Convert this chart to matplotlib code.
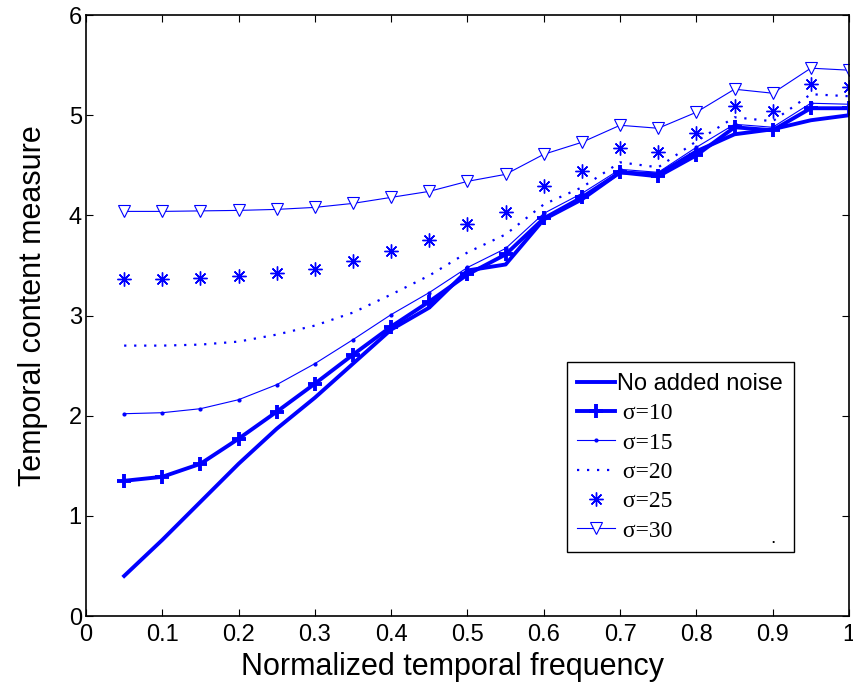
import numpy as np
import matplotlib
matplotlib.use("Agg")
import matplotlib.pyplot as plt

# normalized temporal frequency
freq = [0.05, 0.1, 0.15, 0.2, 0.25, 0.3, 0.35, 0.4, 0.45, 0.5,
        0.55, 0.6, 0.65, 0.7, 0.75, 0.8, 0.85, 0.9, 0.95, 1.0]

no_noise = [0.40, 0.76, 1.14, 1.52, 1.87, 2.18, 2.52, 2.86, 3.08, 3.45,
            3.51, 3.96, 4.16, 4.43, 4.41, 4.64, 4.81, 4.86, 4.95, 5.00]
sigma10 = [1.35, 1.39, 1.52, 1.77, 2.04, 2.32, 2.61, 2.89, 3.14, 3.41,
           3.61, 3.97, 4.18, 4.43, 4.39, 4.60, 4.88, 4.85, 5.07, 5.07]
sigma15 = [2.02, 2.03, 2.07, 2.16, 2.31, 2.52, 2.76, 3.01, 3.23, 3.48,
           3.67, 4.02, 4.22, 4.46, 4.43, 4.68, 4.91, 4.88, 5.12, 5.11]
sigma20 = [2.70, 2.70, 2.71, 2.74, 2.81, 2.90, 3.03, 3.21, 3.40, 3.63,
           3.81, 4.11, 4.28, 4.53, 4.48, 4.74, 4.98, 4.94, 5.21, 5.19]
sigma25 = [3.37, 3.37, 3.38, 3.39, 3.42, 3.46, 3.54, 3.64, 3.75, 3.91,
           4.03, 4.29, 4.44, 4.67, 4.63, 4.82, 5.09, 5.04, 5.31, 5.28]
sigma30 = [4.04, 4.04, 4.045, 4.05, 4.06, 4.08, 4.12, 4.18, 4.24, 4.34,
           4.41, 4.61, 4.73, 4.90, 4.87, 5.03, 5.26, 5.22, 5.47, 5.45]

labels = ["No added noise", " \u03c3=10", " \u03c3=15", " \u03c3=20", " \u03c3=25", " \u03c3=30"]

plt.rcParams["font.family"] = ["Liberation Sans", "DejaVu Sans"]
blue = (0, 0, 1)

fig = plt.figure(figsize=(8.54, 6.86), dpi=100)
ax = fig.add_axes([0.1007, 0.102, 0.8934, 0.876])

ax.plot(freq, no_noise, color=blue, lw=2.8, label=labels[0])
ax.plot(freq, sigma10, color=blue, lw=2.8, marker="+", ms=10, mew=2.8, label=labels[1])
ax.plot(freq, sigma15, color=blue, lw=0.8, marker=".", ms=4, label=labels[2])
ax.plot(freq, sigma20, color=blue, lw=1.6, ls=(0, (1, 3.5)), label=labels[3])
# matlab style asterisk: eight spokes
ax.plot(freq, sigma25, color=blue, lw=0, marker=(8, 2, 0), ms=10, mew=1.0, label=labels[4])
ax.plot(freq, sigma30, color=blue, lw=0.8, marker="v", ms=9, mew=0.8,
        markerfacecolor="white", label=labels[5])

ax.set_xlim(0, 1)
ax.set_ylim(0, 6)
ax.set_xticks(np.arange(0, 1.01, 0.1))
ax.set_xticklabels(["0", "0.1", "0.2", "0.3", "0.4", "0.5", "0.6", "0.7", "0.8", "0.9", "1"])
ax.set_yticks(range(7))
ax.tick_params(direction="in", top=True, right=True, labelsize=17, length=5, width=0.8)
ax.tick_params(axis="x", pad=6)
ax.tick_params(axis="y", pad=3)
for s in ax.spines.values():
    s.set_linewidth(1.2)

ax.set_xlabel("Normalized temporal frequency", fontsize=22, labelpad=4)
ax.set_ylabel("Temporal content measure", fontsize=22, labelpad=15)
ax.xaxis.label.set_x(0.48)
ax.yaxis.label.set_y(0.517)

leg = ax.legend(loc="lower left", bbox_to_anchor=(0.63, 0.106), fontsize=17,
                handlelength=1.6, handletextpad=0.1, labelspacing=0.33,
                borderpad=0.45, borderaxespad=0, fancybox=False, framealpha=1,
                edgecolor="black")
leg.get_frame().set_linewidth(1.0)
for t in leg.get_texts()[1:]:
    t.set_fontfamily(["Liberation Serif", "DejaVu Serif"])
ax.text(0.897, 0.122, ".", transform=ax.transAxes, fontsize=14, zorder=10)

fig.savefig("out.png", dpi=100)
